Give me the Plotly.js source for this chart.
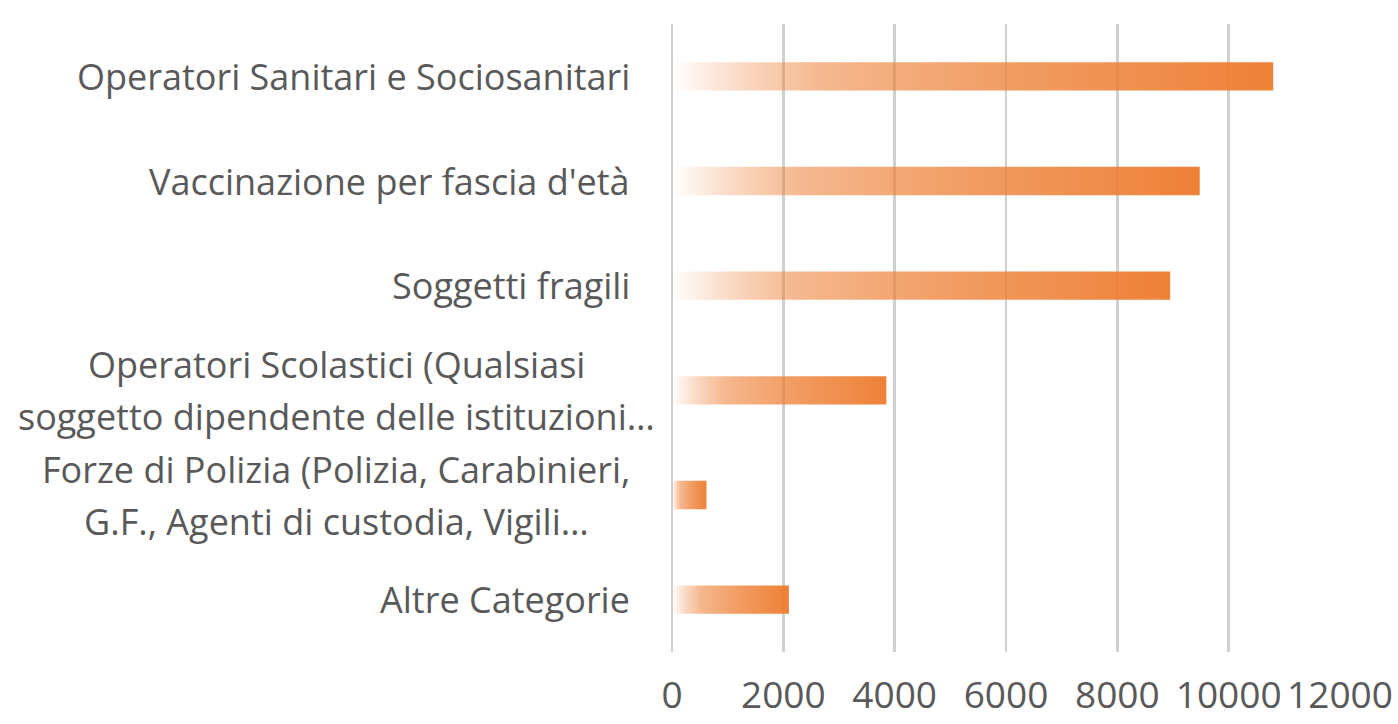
<!DOCTYPE html>
<html>
<head>
<meta charset="utf-8">
<script src="https://cdn.plot.ly/plotly-3.0.1.min.js"></script>
<style>html,body{margin:0;padding:0;background:#fff;}#chart{width:1398px;height:724px;}</style>
</head>
<body>
<div id="chart"></div>
<script>
// Data
const categories = [
  "Operatori Sanitari e Sociosanitari",
  "Vaccinazione per fascia d'età",
  "Soggetti fragili",
  "Operatori Scolastici (Qualsiasi<br>soggetto dipendente delle istituzioni…",
  "Forze di Polizia (Polizia, Carabinieri,<br>G.F., Agenti di custodia, Vigili…",
  "Altre Categorie"
];
const values = [10800, 9480, 8950, 3850, 620, 2100];
const xTickValues = [0, 2000, 4000, 6000, 8000, 10000, 12000];
const xTickLabels = ["0", "2000", "4000", "6000", "8000", "10000", "12000"];

const FONT = "Open Sans, Noto Sans, sans-serif";
const TXT = "#595959";
const FS = 36;
const TFS = 37;

// Category labels as annotations (one per line)
const annotations = [];
categories.forEach(function (cat) {
  const lines = cat.split("<br>");
  if (lines.length === 1) {
    annotations.push({
      xref: "paper", yref: "y", x: 0, y: cat, xshift: -40,
      xanchor: "right", yanchor: "middle", showarrow: false,
      text: lines[0], font: {family: FONT, size: FS, color: TXT}
    });
  } else {
    lines.forEach(function (ln, i) {
      annotations.push({
        xref: "paper", yref: "y", x: 0, y: cat, xshift: -336,
        yshift: (i === 0 ? 26 : -26),
        xanchor: "center", yanchor: "middle", showarrow: false,
        text: ln, font: {family: FONT, size: FS, color: TXT}
      });
    });
  }
});

const trace = {
  type: "bar",
  orientation: "h",
  y: categories,
  x: values,
  marker: {color: "#ED7D31", line: {width: 0}},
  hoverinfo: "x+y"
};

const layout = {
  width: 1398, height: 724,
  margin: {l: 672, r: 58, t: 24, b: 72},
  paper_bgcolor: "#ffffff", plot_bgcolor: "#ffffff",
  showlegend: false,
  bargap: 0.73,
  font: {family: FONT, color: TXT},
  xaxis: {
    range: [0, 12000],
    tickvals: xTickValues, ticktext: xTickLabels,
    showgrid: true, gridcolor: "#d0d0d0", gridwidth: 2.5,
    zeroline: true, zerolinecolor: "#d0d0d0", zerolinewidth: 2.5,
    showline: false, ticks: "",
    ticklabelstandoff: 18,
    tickfont: {family: FONT, size: TFS, color: TXT},
    fixedrange: true
  },
  yaxis: {
    type: "category",
    autorange: "reversed",
    showticklabels: false, showgrid: false, zeroline: false, ticks: "",
    fixedrange: true
  },
  annotations: annotations
};

Plotly.newPlot("chart", [trace], layout, {displayModeBar: false, staticPlot: true}).then(function (gd) {
  const svgNS = "http://www.w3.org/2000/svg";
  const svg = gd.querySelector("svg.main-svg");
  let defs = svg.querySelector("defs");
  if (!defs) { defs = document.createElementNS(svgNS, "defs"); svg.insertBefore(defs, svg.firstChild); }
  const grad = document.createElementNS(svgNS, "linearGradient");
  grad.setAttribute("id", "barGrad");
  grad.setAttribute("x1", "0"); grad.setAttribute("y1", "0");
  grad.setAttribute("x2", "1"); grad.setAttribute("y2", "0");
  [[0, 0.0], [0.12, 0.3], [0.25, 0.55], [0.55, 0.75], [1, 0.97]].forEach(function (s) {
    const st = document.createElementNS(svgNS, "stop");
    st.setAttribute("offset", s[0]);
    st.setAttribute("stop-color", "#ED7D31");
    st.setAttribute("stop-opacity", s[1]);
    grad.appendChild(st);
  });
  defs.appendChild(grad);
  gd.querySelectorAll(".barlayer .point path").forEach(function (p) {
    p.style.fill = "url(#barGrad)";
    p.style.fillOpacity = 1;
  });
});
</script>
</body>
</html>
